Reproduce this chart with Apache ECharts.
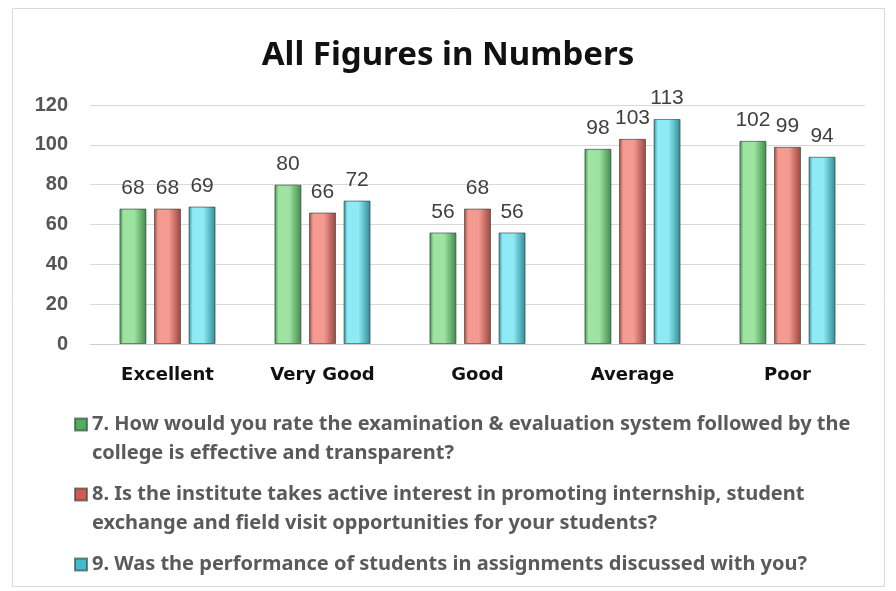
<!DOCTYPE html>
<html>
<head>
<meta charset="utf-8">
<script src="https://cdn.jsdelivr.net/npm/echarts@6/dist/echarts.min.js"></script>
<style>
html,body{margin:0;padding:0;background:#fff;}
#main{width:896px;height:591px;}
</style>
</head>
<body>
<div id="main"></div>
<script>
var categories = ['Excellent', 'Very Good', 'Good', 'Average', 'Poor'];
var q7 = [68, 80, 56, 98, 102];
var q8 = [68, 66, 68, 103, 99];
var q9 = [69, 72, 56, 113, 94];
var seriesNames = [
    '7. How would you rate the examination & evaluation system followed by the college is effective and transparent?',
    '8. Is the institute takes active interest in promoting internship, student exchange and field visit opportunities for your students?',
    '9. Was the performance of students in assignments discussed with you?'
];
var yTicks = [0, 20, 40, 60, 80, 100, 120];

function barColor(dark, light){
    return new echarts.graphic.LinearGradient(0, 0, 1, 0, [
        {offset: 0, color: dark},
        {offset: 0.15, color: light},
        {offset: 0.55, color: light},
        {offset: 1, color: dark}
    ]);
}
var colors = [
    barColor('#3f8a4a', '#9ee3a0'),
    barColor('#9a4540', '#f49a90'),
    barColor('#2f8a96', '#8eeaf4')
];
var legendColors = ['#4fae5c', '#d35a54', '#45bccb'];

// square on the first text line, invisible point at the bottom to stretch the icon box
var tallIcon = 'path://M0,0L12,0L12,12L0,12Z M0,41L0.01,41L0,41Z';

var labelStyle = {show: true, position: 'top', distance: 10, color: '#404040', fontSize: 21, fontFamily: 'Liberation Sans'};
var data = [q7, q8, q9];
var series = [];
for (var i = 0; i < 3; i++) {
    series.push({
        name: seriesNames[i],
        type: 'bar',
        data: data[i],
        barWidth: 27,
        barGap: '28%',
        itemStyle: {color: colors[i], borderColor: 'rgba(40,60,50,0.6)', borderWidth: 1},
        label: labelStyle
    });
}

var myChart = echarts.init(document.getElementById('main'));
var option = {
    color: legendColors,
    title: {
        text: 'All Figures in Numbers',
        left: 'center',
        top: 34,
        textStyle: {fontSize: 33, fontWeight: 'bold', color: '#111', fontFamily: 'Noto Sans'}
    },
    graphic: [{
        type: 'rect',
        shape: {x: 12.5, y: 8.5, width: 872, height: 578},
        style: {fill: 'none', stroke: '#d9d9d9', lineWidth: 1},
        silent: true
    }],
    grid: {left: 90, right: 31, top: 105, bottom: 247},
    xAxis: {
        type: 'category',
        data: categories,
        axisLine: {lineStyle: {color: '#cfcfcf'}},
        axisTick: {show: false},
        axisLabel: {margin: 22, fontSize: 18, fontWeight: 'bold', color: '#111', fontFamily: 'DejaVu Sans'}
    },
    yAxis: {
        type: 'value',
        min: yTicks[0],
        max: yTicks[yTicks.length - 1],
        interval: 20,
        axisLabel: {fontSize: 20, fontWeight: 'bold', color: '#555', margin: 22, fontFamily: 'Liberation Sans'},
        splitLine: {lineStyle: {color: '#d9d9d9'}}
    },
    legend: {
        orient: 'vertical',
        left: 74,
        top: 410,
        height: 260,
        padding: 0,
        itemWidth: 12,
        itemHeight: 41,
        itemGap: 12,
        icon: tallIcon,
        data: seriesNames.map(function(n, i){
            return {name: n, itemStyle: {color: legendColors[i]}};
        }),
        // the short last item gets an empty second line so all icons sit on line one
        formatter: function(name){
            return name === seriesNames[2] ? name + '\n ' : name;
        },
        textStyle: {
            fontSize: 20,
            fontWeight: 'bold',
            color: '#5a5a5a',
            fontFamily: 'Noto Sans',
            width: 775,
            overflow: 'break',
            lineHeight: 29
        }
    },
    series: series
};
myChart.setOption(option);
</script>
</body>
</html>
